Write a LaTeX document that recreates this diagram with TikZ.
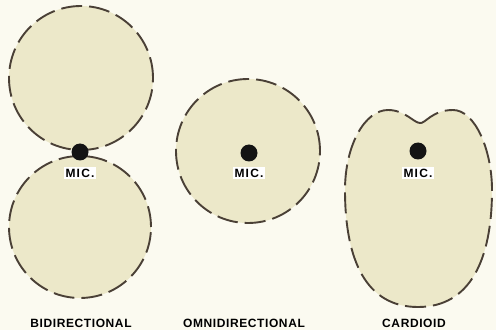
\documentclass[tikz,border=0pt]{standalone}
\usepackage{fontspec}
\setmainfont{Liberation Sans}
\newfontfamily\labelfont[LetterSpace=5]{Liberation Sans}
\newfontfamily\micfont[LetterSpace=10]{Liberation Sans}
\begin{document}
\begin{tikzpicture}[x=1pt,y=1pt,
  lobe/.style={draw=lineC, fill=fillC, line width=1.9pt, dash pattern=on 21pt off 7pt},
  micdot/.style={circle, fill=black!92, inner sep=0pt, minimum size=17pt},
  miclabel/.style={fill=white, inner sep=1.5pt, font=\micfont\bfseries\fontsize{12}{12}\selectfont},
  caption/.style={anchor=base, inner sep=1pt, font=\labelfont\bfseries\fontsize{12}{12}\selectfont}]
\definecolor{bgC}{HTML}{FBFAF0}
\definecolor{fillC}{HTML}{ECE8C9}
\definecolor{lineC}{HTML}{4A4036}
\fill[bgC] (0,0) rectangle (496,330);
\useasboundingbox (0,0) rectangle (496,330);
% bidirectional
\draw[lobe] (81,252) circle[radius=72];
\draw[lobe] (80,103) circle[radius=71];
\node[micdot] (d1) at (80,178) {};
\node[miclabel] (m1) at (80,157) {MIC.};
\node[caption] (c1) at (81,2.5) {BIDIRECTIONAL};
% omnidirectional
\draw[lobe] (248,179) circle[radius=72];
\node[micdot] (d2) at (249,177) {};
\node[miclabel] (m2) at (249,157) {MIC.};
\node[caption] (c2) at (244,2.5) {OMNIDIRECTIONAL};
% cardioid
\draw[lobe] (420,207) .. controls (425,206) and (432,220) .. (453,220)
  .. controls (475,220) and (492,180) .. (492,140)
  .. controls (492,70) and (470,23) .. (418,23)
  .. controls (366,23) and (345,70) .. (345,140)
  .. controls (345,185) and (365,220) .. (388,220)
  .. controls (405,220) and (414,207) .. cycle;
\node[micdot] (d3) at (418,179) {};
\node[miclabel] (m3) at (418,157) {MIC.};
\node[caption] (c3) at (414,2.5) {CARDIOID};
\end{tikzpicture}
\end{document}
